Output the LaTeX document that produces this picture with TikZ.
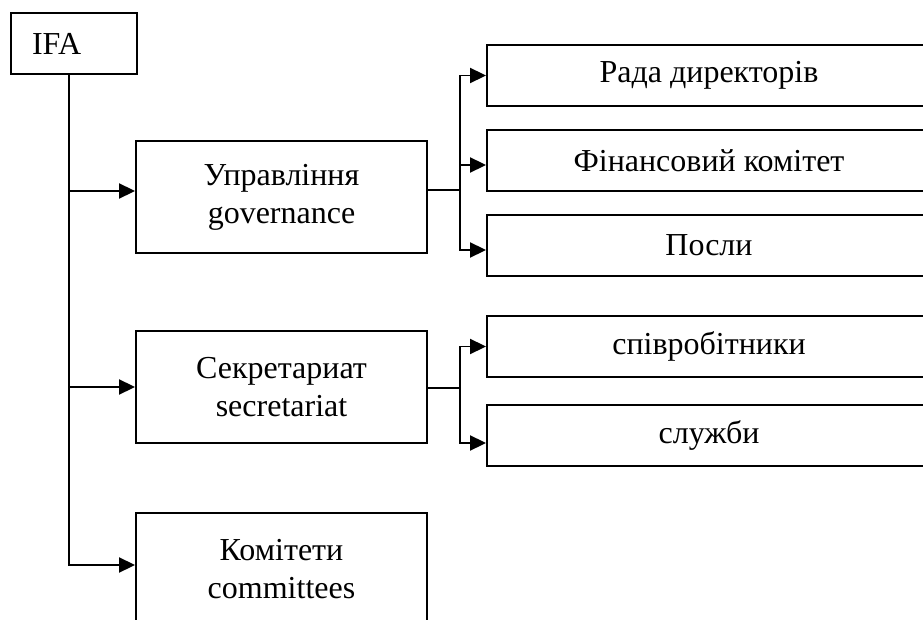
\documentclass[tikz,border=0pt]{standalone}
\usepackage{fontspec}
\setmainfont{Liberation Serif}
\usetikzlibrary{arrows.meta,positioning}
\tikzset{
  head/.style={
    draw,
    line width=1.9pt,
    minimum height=61pt,
    text width=84pt,
    inner xsep=21pt,
    align=left,
    font=\fontsize{32}{38}\selectfont
  },
  unit/.style={
    draw,
    line width=1.9pt,
    minimum width=291pt,
    minimum height=112pt,
    align=center,
    font=\fontsize{32}{38}\selectfont
  },
  sub/.style={
    draw,
    line width=1.9pt,
    minimum width=444pt,
    minimum height=61pt,
    align=center,
    font=\fontsize{32}{38}\selectfont
  },
  link/.style={line width=1.9pt},
  flow/.style={-{Triangle[length=16pt,width=15pt]}, line width=1.9pt}
}

\begin{document}
\begin{tikzpicture}[x=1pt,y=-1pt]
  \useasboundingbox (0,0) rectangle (923,620);
  \clip (0,0) rectangle (923,620);

  \node[head] (ifa) at (74,43.5) {IFA};

  \node[unit] (gov) at (281.5,197) {Управління\\governance};
  \node[unit] (sec) at (281.5,387) {Секретариат\\secretariat};
  \node[unit] (com) at (281.5,569) {Комітети\\committees};

  \node[sub] (rada) at (709,75.5) {Рада директорів};
  \node[sub] (fin) at (709,160.5) {Фінансовий комітет};
  \node[sub] (posly) at (709,245.5) {Посли};
  \node[sub] (staff) at (709,346.5) {співробітники};
  \node[sub] (serv) at (709,435.5) {служби};

  \coordinate (trunk) at (69,74.5);
  \coordinate (gsplit) at (460,190);
  \coordinate (ssplit) at (460,388);

  % left trunk
  \draw[flow] (trunk) |- ([yshift=4pt]com.west);
  \draw[flow] ([yshift=6pt]gov.west -| trunk) -- ([yshift=6pt]gov.west);
  \draw[flow] (sec.west -| trunk) -- (sec.west);

  % governance branch
  \draw[link] ([yshift=7pt]gov.east) -- (gsplit);
  \draw[flow] (gsplit) |- (rada.west);
  \draw[flow] (gsplit) |- ([yshift=-4.5pt]fin.west);
  \draw[flow] (gsplit) |- ([yshift=-4.5pt]posly.west);

  % secretariat branch
  \draw[link] ([yshift=-1pt]sec.east) -- (ssplit);
  \draw[flow] (ssplit) |- (staff.west);
  \draw[flow] (ssplit) |- ([yshift=-7.5pt]serv.west);
\end{tikzpicture}
\end{document}
